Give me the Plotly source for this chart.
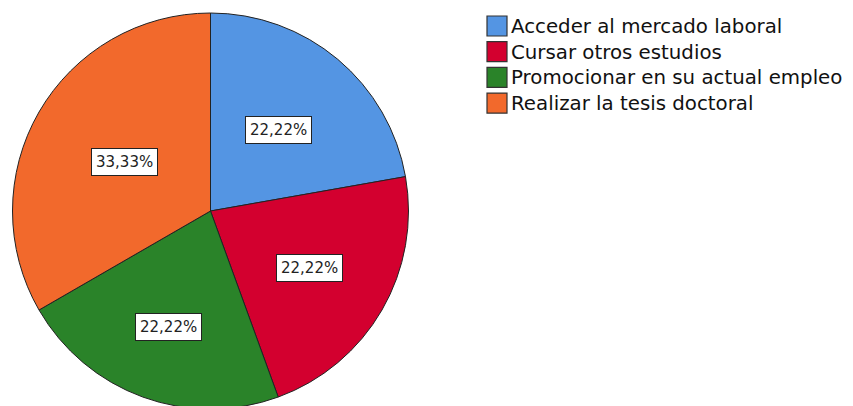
import math
import plotly.graph_objects as go

categories = ["Acceder al mercado laboral", "Cursar otros estudios",
              "Promocionar en su actual empleo", "Realizar la tesis doctoral"]
percentages = [22.22, 22.22, 22.22, 33.33]
colors = ["#5495E3", "#D3002F", "#2A8329", "#F2692C"]

W, H = 853, 406
OFF = 8  # page body margin
cx, cy, R = 210.5 - OFF, 211 - OFF, 198  # pixel geometry of the pie (figure coords)

dom_x = [(cx - R) / W, (cx + R) / W]
dom_y = [(H - (cy + R)) / H, (H - (cy - R)) / H]

fig = go.Figure(go.Pie(
    labels=categories, values=percentages, sort=False, direction="clockwise",
    rotation=0, marker=dict(colors=colors, line=dict(color="#222222", width=1)),
    textinfo="none", hoverinfo="label+percent", showlegend=False,
    domain=dict(x=dom_x, y=dom_y),
))

# boxed value labels placed at slice midpoints
radial = [0.535, 0.58, 0.625, 0.50]
total = sum(percentages)
acc = 0
for i, v in enumerate(percentages):
    mid = (acc + v / 2) / total * 2 * math.pi
    acc += v
    px = cx + radial[i] * R * math.sin(mid)
    py = cy - radial[i] * R * math.cos(mid)
    fig.add_annotation(
        x=px / W, y=1 - py / H, xref="paper", yref="paper",
        xanchor="center", yanchor="middle",
        text=f"{v:.2f}%".replace(".", ","), showarrow=False,
        font=dict(family="DejaVu Sans", size=15, color="#222222"),
        bgcolor="white", bordercolor="#222222", borderwidth=1, borderpad=4,
    )

# legend drawn manually (larger swatches, tight spacing as in reference)
lx, ly, sw, pitch = 487 - OFF, 16 - OFF, 20, 25.7
for i, (name, col) in enumerate(zip(categories, colors)):
    y0 = ly + i * pitch
    fig.add_shape(type="rect", xref="paper", yref="paper",
                  x0=lx / W, x1=(lx + sw) / W,
                  y0=1 - (y0 + sw) / H, y1=1 - y0 / H,
                  fillcolor=col, line=dict(color="#333333", width=1.2))
    fig.add_annotation(x=(lx + sw + 2) / W, y=1 - (y0 + sw / 2 + 0.5) / H,
                       xref="paper", yref="paper", xanchor="left", yanchor="middle",
                       text=name, showarrow=False,
                       font=dict(family="DejaVu Sans", size=19.8, color="#111111"))

fig.update_layout(
    width=W, height=H, margin=dict(l=0, r=0, t=0, b=0),
    paper_bgcolor="white", plot_bgcolor="white", showlegend=False,
)

fig.write_html("out.html")
